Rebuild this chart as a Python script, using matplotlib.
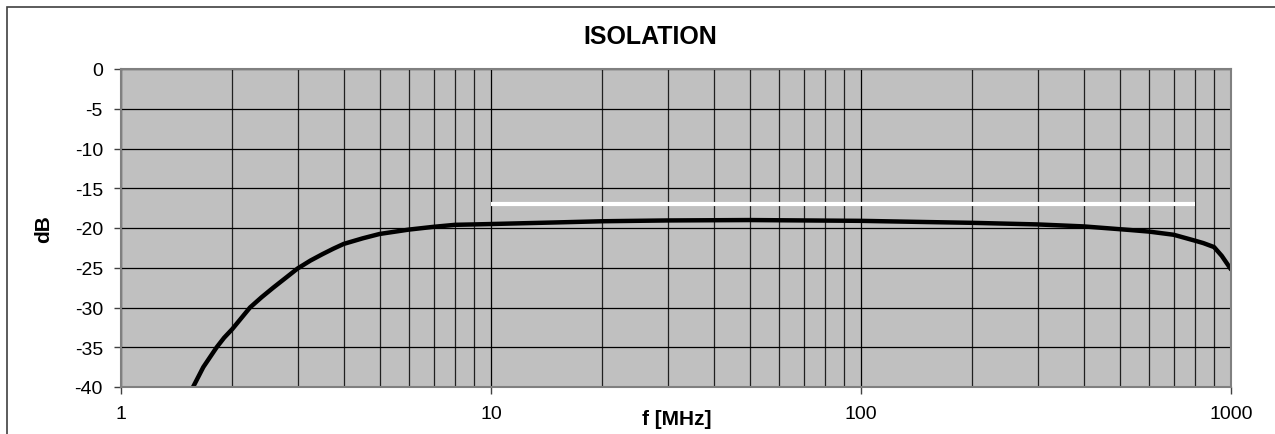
import matplotlib
matplotlib.use("Agg")
import matplotlib.pyplot as plt
from matplotlib.ticker import FixedLocator, NullFormatter
from matplotlib.patches import Rectangle

plt.rcParams['font.family'] = ['Liberation Sans', 'DejaVu Sans']

freq_mhz = [1.566, 1.669, 1.814, 1.9, 2.0, 2.1, 2.232, 2.4, 2.58, 2.8, 3.0, 3.25, 3.5,
            3.75, 4.0, 4.5, 5.0, 6.0, 7.0, 8.0, 9.0, 10.0, 15.0, 20.0, 30.0, 50.0,
            100.0, 150.0, 200.0, 300.0, 400.0, 533.0, 600.0, 700.0, 800.0, 842.0,
            900.0, 944.0, 1000.0]
isolation_db = [-40.0, -37.5, -35.0, -33.8, -32.7, -31.5, -30.0, -28.7, -27.5, -26.2,
                -25.1, -24.1, -23.3, -22.6, -22.0, -21.3, -20.75, -20.2, -19.85, -19.6,
                -19.55, -19.5, -19.3, -19.15, -19.05, -19.0, -19.1, -19.25, -19.35,
                -19.55, -19.8, -20.25, -20.45, -20.85, -21.6, -21.9, -22.4, -23.5, -25.2]
limit_freq = [10.0, 800.0]
limit_db = [-17.0, -17.0]

x_ticks = [1, 10, 100, 1000]
x_tick_labels = ["1", "10", "100", "1000"]
y_ticks = [0, -5, -10, -15, -20, -25, -30, -35, -40]

W, H = 1275, 435
fig = plt.figure(figsize=(W / 100, H / 100), dpi=100)
fig.patch.set_facecolor("white")
fig.patches.append(Rectangle((7 / W, -0.1), 1.2, 1 - 8 / H + 0.1, transform=fig.transFigure,
                             fill=False, edgecolor="#404040", linewidth=1.2))

ax = fig.add_axes([121 / W, 1 - 388 / H, 1110 / W, 318 / H])
ax.set_facecolor("#C0C0C0")
ax.set_xscale("log")
ax.set_xlim(1, 1000)
ax.set_ylim(-40, 0)

ax.xaxis.set_major_locator(FixedLocator(x_ticks))
minor = [m * 10 ** d for d in range(0, 3) for m in range(2, 10)]
ax.xaxis.set_minor_locator(FixedLocator(minor))
ax.xaxis.set_minor_formatter(NullFormatter())
ax.set_xticklabels(x_tick_labels)
ax.set_yticks(y_ticks)
ax.set_yticklabels([str(v) for v in y_ticks])

ax.grid(True, which="major", color="black", linewidth=0.9)
ax.grid(True, which="minor", axis="x", color="#202020", linewidth=0.9)
ax.set_axisbelow(True)

for s in ax.spines.values():
    s.set_color("#808080")
    s.set_linewidth(1.5)

ax.tick_params(axis="both", which="major", direction="out", length=5, width=1,
               color="#404040", labelsize=14, pad=8)
ax.tick_params(axis="x", which="minor", length=0)

ax.plot(limit_freq, limit_db, color="white", linewidth=3.0, solid_capstyle="butt")
ax.plot(freq_mhz, isolation_db, color="black", linewidth=3.2, solid_capstyle="round",
        solid_joinstyle="round", clip_on=True)

ax.set_xlabel("f [MHz]", fontsize=15, fontweight="bold")
ax.xaxis.set_label_coords((677 - 121) / 1110, -0.07)
ax.set_ylabel("dB", fontsize=15, fontweight="bold")
ax.yaxis.set_label_coords((53 - 121) / 1110, 0.5)

fig.text(650 / W, 1 - 37 / H, "ISOLATION", ha="center", va="center",
         fontsize=18, fontweight="bold")

fig.savefig("out.png", dpi=100)
